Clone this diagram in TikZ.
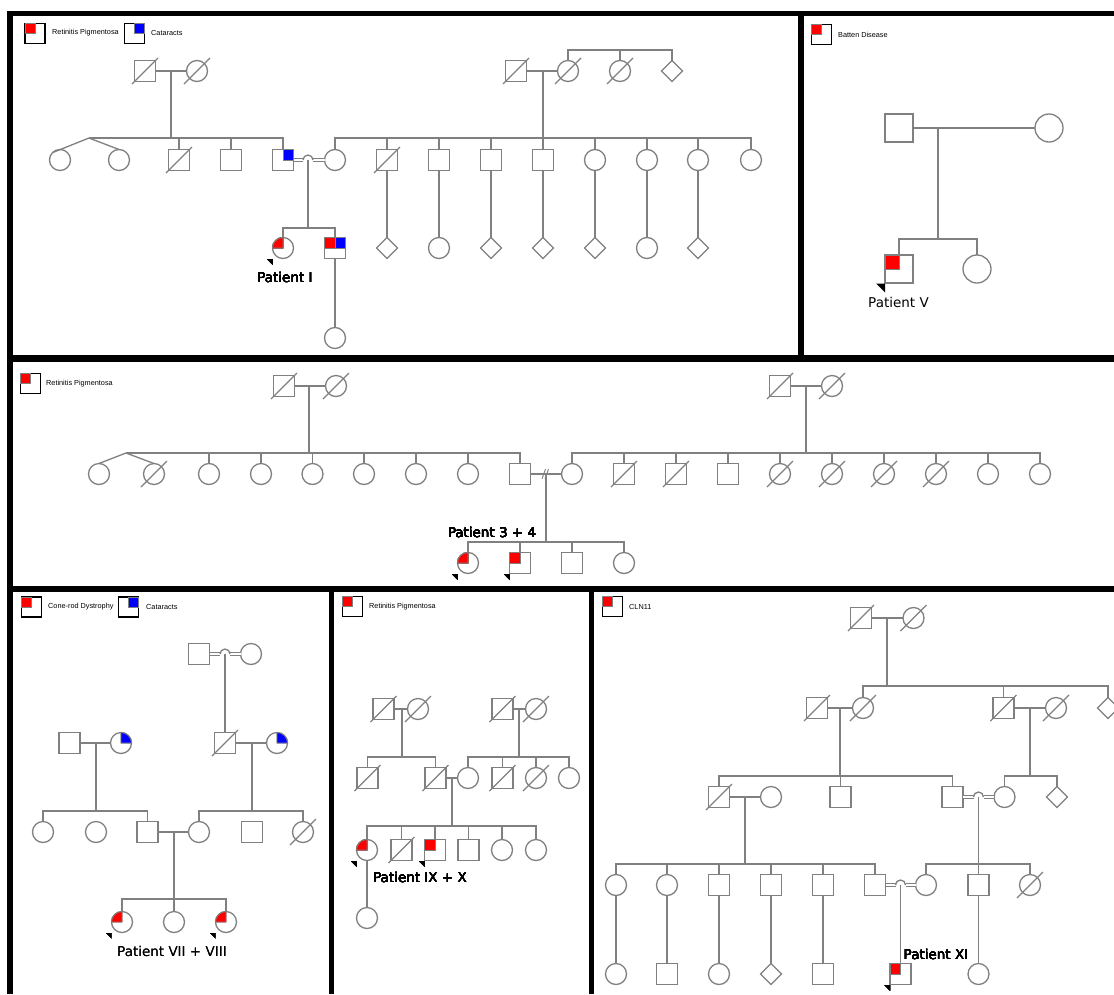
\documentclass[tikz,border=0pt]{standalone}
\usepackage{fontspec}
\setmainfont{DejaVu Sans}
\newfontfamily\lgfont{Liberation Sans}
\usetikzlibrary{shapes.geometric}
\definecolor{lc}{RGB}{128,128,128}
\tikzset{
  ln/.style={draw=lc, line width=1.3pt},
  sl/.style={draw=lc, line width=1.1pt},
  sym/.style={draw=lc, line width=1.3pt, fill=white, inner sep=0pt, outer sep=0pt},
  M/.style={sym, rectangle, minimum size=21pt},
  F/.style={sym, circle, minimum size=21pt},
  U/.style={sym, diamond, minimum size=21pt},
  dbl/.style={draw=lc, line width=0.9pt, double=white, double distance=1.6pt},
  aff/.style={fill=red, draw=lc, line width=0.8pt},
  cat/.style={fill=blue, draw=lc, line width=0.8pt},
  bd/.style={draw=black, line width=6pt},
  lab/.style={font=\fontsize{13.5}{15}\selectfont, inner sep=0pt},
  leg/.style={font=\lgfont\fontsize{7.3}{8}\selectfont, anchor=west, inner sep=0pt},
  legbox/.style={rectangle, draw=black, line width=1.6pt, fill=white, minimum size=20pt, inner sep=0pt, outer sep=0pt},
}
\newcommand\dd[1]{\draw[sl] (#1) ++(-13,13) -- ++(26,-26);}
\newcommand\rsq[1]{\filldraw[aff] (#1.north west) rectangle (#1.center);}
\newcommand\bsq[1]{\filldraw[cat] (#1.north east) rectangle (#1.center);}
\newcommand\rci[2]{\filldraw[aff] (#1.center) -- (#1.west) arc[start angle=180,end angle=270,radius=#2] -- cycle;}
\newcommand\bci[2]{\filldraw[cat] (#1.center) -- (#1.north) arc[start angle=270,end angle=360,radius=#2] -- cycle;}
\newcommand\pa[2]{\fill[black] (#1.west |- #1.south) ++(0,0.5) -- ++(-#2,0) -- ++(#2,#2) -- cycle;}
\newcommand\hop[3]{% man, woman, hop coordinate
  \draw[dbl] (#1) -- ([xshift=-5pt]#3);
  \draw[dbl] ([xshift=5pt]#3) -- (#2);
  \draw[ln] ([xshift=-5pt]#3) arc[start angle=180,end angle=360,radius=5];}
\begin{document}
\begin{tikzpicture}[x=1pt,y=-1pt]
\useasboundingbox (0,0) rectangle (1114,994);
\fill[white] (0,0) rectangle (1114,994);

% ---------------- borders
\draw[bd, line width=5.5pt] (7,13.5) -- (1114,13.5);
\draw[bd] (10,11) -- (10,994);
\draw[bd] (800.5,11) -- (800.5,358);
\draw[bd, line width=7pt] (7,358) -- (1114,358);
\draw[bd] (7,589) -- (1114,589);
\draw[bd, line width=5pt] (331,589) -- (331,994);
\draw[bd, line width=5pt] (591,589) -- (591,994);

% ================= Panel I (top left)
\node[legbox] (LA1) at (35,33.5) {}; \filldraw[aff] (LA1.north west) rectangle (LA1.center);
\node[leg] (LT1) at (52,33) {Retinitis Pigmentosa};
\node[legbox] (LA2) at (134.5,33.5) {}; \filldraw[cat] (LA2.north east) rectangle (LA2.center);
\node[leg] (LT2) at (151,33) {Cataracts};

\node[M] (A1) at (145,71) {}; \node[F] (A2) at (197,71) {};
\coordinate (A12) at (171,71); \coordinate (A12s) at (171,138); \coordinate (Atw) at (89,138);
\node[M] (A3) at (516,71) {}; \node[F] (A4) at (568,71) {}; \node[F] (A5) at (620,71) {}; \node[U] (A6) at (672,71) {};
\coordinate (A34) at (543,71); \coordinate (A34s) at (543,138); \coordinate (A4s) at (568,50);

\node[F] (B1) at (60,160) {}; \node[F] (B2) at (119,160) {};
\node[M] (B3) at (179,160) {}; \node[M] (B4) at (231,160) {}; \node[M] (B5) at (283,160) {};
\node[F] (B6) at (335,160) {};
\node[M] (B7) at (387,160) {}; \node[M] (B8) at (439,160) {}; \node[M] (B9) at (491,160) {}; \node[M] (B10) at (543,160) {};
\node[F] (B11) at (595,160) {}; \node[F] (B12) at (647,160) {}; \node[F] (B13) at (698,160) {}; \node[F] (B14) at (751,160) {};
\coordinate (H1) at (308,160); \coordinate (H1s) at (308,228);

\node[F] (C1) at (283,248) {}; \node[M] (C2) at (335,248) {};
\node[U] (C3) at (387,248) {}; \node[F] (C4) at (439,248) {}; \node[U] (C5) at (491,248) {}; \node[U] (C6) at (543,248) {};
\node[U] (C7) at (595,248) {}; \node[F] (C8) at (647,248) {}; \node[U] (C9) at (698,248) {};
\node[F] (D1) at (335,338) {};

\draw[ln] (A1) -- (A2);
\draw[ln] (A12) -- (A12s);
\draw[ln] (B1.north west) -- (Atw) -- (B2.north);
\draw[ln] (Atw) -- (A12s) -| (B5.north);
\foreach \n in {B3,B4} \draw[ln] (\n.north) -- (\n.north |- Atw);
\draw[ln] (A3) -- (A4);
\draw[ln] (A34) -- (A34s);
\draw[ln] (A4.north) |- (A4s) -| (A6.north);
\draw[ln] (A5.north) -- (A5.north |- A4s);
\draw[ln] (B6.north) |- (A34s) -| (B14.north);
\foreach \n in {B7,B8,B9,B10,B11,B12,B13} \draw[ln] (\n.north) -- (\n.north |- A34s);
\hop{B5}{B6}{H1}
\draw[ln] (H1) -- (H1s);
\draw[ln] (C1.north) |- (H1s) -| (C2.north);
\draw[ln] (C2) -- (D1);
\foreach \a/\b in {B7/C3,B8/C4,B9/C5,B10/C6,B11/C7,B12/C8,B13/C9} \draw[ln] (\a) -- (\b);
\foreach \n in {A1,A2,A3,A4,A5,B3,B7} \dd{\n}
\bsq{B5}
\rci{C1}{10.5}
\rsq{C2} \bsq{C2}
\pa{C1}{5.5}
\node[lab] (PI) at (285,277) {Patient I};

% ================= Panel V (top right)
\node[legbox] (LV) at (821.5,34.5) {}; \filldraw[aff] (LV.north west) rectangle (LV.center);
\node[leg] (LTV) at (838,35) {Batten Disease};
\node[M, minimum size=28pt] (V1) at (899,128) {};
\node[F, minimum size=28pt] (V2) at (1049,128) {};
\coordinate (V12) at (938,128); \coordinate (V12s) at (938,239);
\node[M, minimum size=28pt] (V3) at (899,269) {};
\node[F, minimum size=28pt] (V4) at (977,269) {};
\draw[ln] (V1) -- (V2);
\draw[ln] (V12) -- (V12s);
\draw[ln] (V3.north) |- (V12s) -| (V4.north);
\rsq{V3}
\pa{V3}{9}
\node[lab] (PV) at (898.5,302) {Patient V};

% ================= Middle panel
\node[legbox] (LM) at (30.5,383.5) {}; \filldraw[aff] (LM.north west) rectangle (LM.center);
\node[leg] (LTM) at (46,384) {Retinitis Pigmentosa};
\node[M] (E1) at (284,386) {}; \node[F] (E2) at (336,386) {};
\coordinate (E12) at (309,386); \coordinate (E12s) at (309,453); \coordinate (Etw) at (126,453);
\node[M] (E3) at (780,386) {}; \node[F] (E4) at (832,386) {};
\coordinate (E34) at (806,386); \coordinate (E34s) at (806,453);
\node[F] (G1) at (99,474) {}; \node[F] (G2) at (154,474) {}; \node[F] (G3) at (209,474) {};
\node[F] (G4) at (261,474) {}; \node[F] (G5) at (312.5,474) {}; \node[F] (G6) at (364,474) {};
\node[F] (G7) at (416,474) {}; \node[F] (G8) at (468,474) {}; \node[M] (G9) at (520,474) {};
\node[F] (G10) at (572,474) {}; \node[M] (G11) at (624,474) {}; \node[M] (G12) at (676,474) {};
\node[M] (G13) at (728,474) {}; \node[F] (G14) at (780,474) {}; \node[F] (G15) at (832,474) {};
\node[F] (G16) at (884,474) {}; \node[F] (G17) at (936,474) {}; \node[F] (G18) at (988,474) {};
\node[F] (G19) at (1040,474) {};
\coordinate (Eh) at (546,474); \coordinate (Ehs) at (546,542);
\node[F] (J1) at (468,563) {}; \node[M] (J2) at (520,563) {}; \node[M] (J3) at (572,563) {}; \node[F] (J4) at (624,563) {};
\draw[ln] (E1) -- (E2);
\draw[ln] (E12) -- (E12s);
\draw[ln] (G1.north) -- (Etw) -- (G2.north);
\draw[ln] (Etw) -- (E12s) -| (G9.north);
\foreach \n in {G3,G4,G5,G6,G7,G8} \draw[ln] (\n.north) -- (\n.north |- Etw);
\draw[ln] (E3) -- (E4);
\draw[ln] (E34) -- (E34s);
\draw[ln] (G10.north) |- (E34s) -| (G19.north);
\foreach \n in {G11,G12,G13,G14,G15,G16,G17,G18} \draw[ln] (\n.north) -- (\n.north |- E34s);
\draw[ln] (G9) -- (G10);
\draw[sl, line width=0.9pt] ([shift={(-4,5)}]Eh) -- ++(3.5,-10) ([shift={(-1,5)}]Eh) -- ++(3.5,-10);
\draw[ln] (Eh) -- (Ehs);
\draw[ln] (J1.north) |- (Ehs) -| (J4.north);
\foreach \n in {J2,J3} \draw[ln] (\n.north) -- (\n.north |- Ehs);
\foreach \n in {E1,E2,E3,E4,G2,G11,G12,G14,G15,G16,G17} \dd{\n}
\rci{J1}{10.5} \rsq{J2}
\pa{J1}{5.5} \pa{J2}{5.5}
\node[lab] (P34) at (492,532) {Patient 3 + 4};

% ================= Bottom left panel
\node[legbox] (LB1) at (31.5,607) {}; \filldraw[aff] (LB1.north west) rectangle (LB1.center);
\node[leg] (LTB1) at (48,607) {Cone-rod Dystrophy};
\node[legbox] (LB2) at (128.5,607) {}; \filldraw[cat] (LB2.north east) rectangle (LB2.center);
\node[leg] (LTB2) at (146,607) {Cataracts};
\node[M] (K1) at (199,654) {}; \node[F] (K2) at (251,654) {};
\coordinate (H2) at (225,654);
\node[M] (L1) at (69.5,743) {}; \node[F] (L2) at (121,743) {};
\node[M] (L3) at (225,743) {}; \node[F] (L4) at (277,743) {};
\coordinate (L12) at (96,743); \coordinate (L12s) at (96,811);
\coordinate (L34) at (252,743); \coordinate (L34s) at (252,811);
\node[F] (N1) at (43,832) {}; \node[F] (N2) at (96,832) {}; \node[M] (N3) at (147.5,832) {};
\node[F] (N4) at (199,832) {}; \node[M] (N5) at (252,832) {}; \node[F] (N6) at (303,832) {};
\coordinate (N34) at (174,832); \coordinate (N34s) at (174,899);
\node[F] (P1) at (122,922) {}; \node[F] (P2) at (174,922) {}; \node[F] (P3) at (226,922) {};
\hop{K1}{K2}{H2}
\draw[ln] (H2) -- (L3);
\draw[ln] (L1) -- (L2);
\draw[ln] (L12) -- (L12s);
\draw[ln] (N1.north) |- (L12s) -| (N3.north);
\draw[ln] (L3) -- (L4);
\draw[ln] (L34) -- (L34s);
\draw[ln] (N4.north) |- (L34s) -| (N6.north);
\draw[ln] (N3) -- (N4);
\draw[ln] (N34) -- (N34s);
\draw[ln] (P1.north) |- (N34s) -| (P3.north);
\draw[ln] (P2) -- (P2 |- N34s);
\foreach \n in {L3,N6} \dd{\n}
\bci{L2}{10.5} \bci{L4}{10.5}
\rci{P1}{10.5} \rci{P3}{10.5}
\pa{P1}{5.5} \pa{P3}{5.5}
\node[lab] (P78) at (172,951) {Patient VII + VIII};

% ================= Bottom middle panel
\node[legbox] (LC) at (352.5,606.5) {}; \filldraw[aff] (LC.north west) rectangle (LC.center);
\node[leg] (LTC) at (369,607) {Retinitis Pigmentosa};
\node[M] (Q1) at (383.5,709) {}; \node[F] (Q2) at (418,709) {};
\node[M] (Q3) at (502.5,709) {}; \node[F] (Q4) at (536,709) {};
\coordinate (Q12) at (402,709); \coordinate (Q12s) at (402,757);
\coordinate (Q34) at (519,709); \coordinate (Q34s) at (519,757);
\node[M] (R1) at (367.5,778) {}; \node[M] (R2) at (435.5,778) {};
\node[F] (R3) at (468,778) {}; \node[M] (R4) at (502.5,778) {}; \node[F] (R5) at (536,778) {}; \node[F] (R6) at (569,778) {};
\coordinate (R23) at (452,778); \coordinate (R23s) at (452,826);
\node[F] (S1) at (367,850) {}; \node[M] (S2) at (401.5,850) {}; \node[M] (S3) at (435,850) {};
\node[M] (S4) at (468.5,850) {}; \node[F] (S5) at (502,850) {}; \node[F] (S6) at (536,850) {};
\node[F] (T1) at (367,918) {};
\draw[ln] (Q1) -- (Q2); \draw[ln] (Q12) -- (Q12s);
\draw[ln] (R1.north) |- (Q12s) -| (R2.north);
\draw[ln] (Q3) -- (Q4); \draw[ln] (Q34) -- (Q34s);
\draw[ln] (R3.north) |- (Q34s) -| (R6.north);
\foreach \n in {R4,R5} \draw[ln] (\n.north) -- (\n.north |- Q34s);
\draw[ln] (R2) -- (R3); \draw[ln] (R23) -- (R23s);
\draw[ln] (S1.north) |- (R23s) -| (S6.north);
\foreach \n in {S2,S3,S4,S5} \draw[ln] (\n.north) -- (\n.north |- R23s);
\draw[ln] (S1) -- (T1);
\foreach \n in {Q1,Q2,Q3,Q4,R1,R2,R4,R5,S2} \dd{\n}
\rci{S1}{10.5} \rsq{S3}
\pa{S1}{5.5} \pa{S3}{5.5}
\node[lab] (P910) at (420,877) {Patient IX + X};

% ================= Bottom right panel
\node[legbox] (LD) at (612.5,606.5) {}; \filldraw[aff] (LD.north west) rectangle (LD.center);
\node[leg] (LTD) at (629,607) {CLN11};
\node[M] (W1) at (861,618) {}; \node[F] (W2) at (913.5,618) {};
\coordinate (W12) at (887,618); \coordinate (W12s) at (887,686);
\node[M] (X1) at (817,708) {}; \node[F] (X2) at (863,708) {};
\node[M] (X3) at (1003.5,708) {}; \node[F] (X4) at (1056,708) {}; \node[U] (X5) at (1108,708) {};
\coordinate (X12) at (840,708); \coordinate (X12s) at (840,776);
\coordinate (X34) at (1030,708); \coordinate (X34s) at (1030,776);
\node[M] (Y1) at (719,797) {}; \node[F] (Y2) at (771,797) {}; \node[M] (Y3) at (840.5,797) {};
\node[M] (Y4) at (952.5,797) {}; \node[F] (Y5) at (1004.5,797) {}; \node[U] (Y6) at (1057,797) {};
\coordinate (Y12) at (745,797); \coordinate (Y12s) at (745,864);
\coordinate (H3) at (978.5,797); \coordinate (H3s) at (978.5,864);
\node[F] (Z1) at (616,885) {}; \node[F] (Z2) at (667,885) {}; \node[M] (Z3) at (719,885) {};
\node[M] (Z4) at (771,885) {}; \node[M] (Z5) at (823,885) {}; \node[M] (Z6) at (875,885) {};
\node[F] (Z7) at (926,885) {}; \node[M] (Z8) at (978.5,885) {}; \node[F] (Z9) at (1030,885) {};
\coordinate (H4) at (900.5,885);
\node[F] (AA1) at (616,974) {}; \node[M] (AA2) at (667,974) {}; \node[F] (AA3) at (719,974) {};
\node[U] (AA4) at (771,974) {}; \node[M] (AA5) at (823,974) {}; \node[M] (AA6) at (900.5,974) {};
\node[F] (AA7) at (978.5,974) {};
\draw[ln] (W1) -- (W2); \draw[ln] (W12) -- (W12s);
\draw[ln] (X2.north) |- (W12s) -| (X5.north);
\draw[ln] (X3.north) -- (X3.north |- W12s);
\draw[ln] (X1) -- (X2); \draw[ln] (X12) -- (X12s);
\draw[ln] (X3) -- (X4); \draw[ln] (X34) -- (X34s);
\draw[ln] (Y1.north) |- (X12s) -| (Y4.north);
\draw[ln] (Y3.north) -- (Y3.north |- X12s);
\draw[ln] (Y5.north) |- (X34s) -| (Y6.north);
\draw[ln] (Y1) -- (Y2); \draw[ln] (Y12) -- (Y12s);
\hop{Y4}{Y5}{H3}
\draw[ln] (H3) -- (H3s);
\draw[ln] (Z1.north) |- (Y12s) -| (Z6.north);
\foreach \n in {Z2,Z3,Z4,Z5} \draw[ln] (\n.north) -- (\n.north |- Y12s);
\draw[ln] (Z7.north) |- (H3s) -| (Z9.north);
\draw[ln] (Z8.north) -- (Z8.north |- H3s);
\hop{Z6}{Z7}{H4}
\draw[ln] (H4) -- (AA6);
\foreach \a/\b in {Z1/AA1,Z2/AA2,Z3/AA3,Z4/AA4,Z5/AA5,Z8/AA7} \draw[ln] (\a) -- (\b);
\foreach \n in {W1,W2,X1,X2,X3,X4,Y1,Z9} \dd{\n}
\rsq{AA6}
\pa{AA6}{5.5}
\node[lab] (P11) at (936,954) {Patient XI};
\end{tikzpicture}
\end{document}
